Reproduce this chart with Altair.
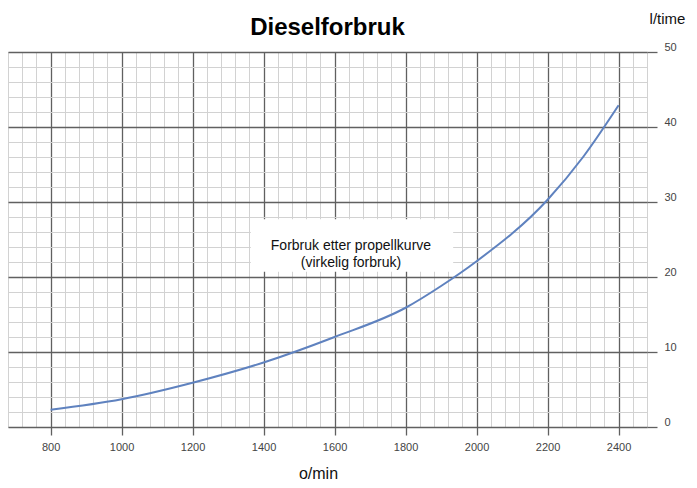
import altair as alt
import pandas as pd

# Data
rpm = [800, 1000, 1200, 1400, 1600, 1800, 1900, 2000, 2200, 2300, 2400]
fuel = [2.3, 3.7, 5.9, 8.6, 12.0, 15.9, 18.8, 22.1, 30.3, 36.0, 42.9]

x_major = [800, 1000, 1200, 1400, 1600, 1800, 2000, 2200, 2400]
y_major = [0, 10, 20, 30, 40, 50]
x_minor = list(range(680, 2481, 40))
y_minor = list(range(0, 51, 2))
x_domain = [680, 2480]
y_domain = [0, 50]

note_lines = ["Forbruk etter propellkurve", "(virkelig forbruk)"]
note_x = [1646]
note_y = [24.2]
box_x = [1364]
box_x2 = [1934]
box_y = [20.7]
box_y2 = [27.7]

df = pd.DataFrame({"rpm": rpm, "fuel": fuel})
note_df = pd.DataFrame({"x": note_x, "y": note_y, "text": ["\n".join(note_lines)]})
box_df = pd.DataFrame({"x": box_x, "x2": box_x2, "y": box_y, "y2": box_y2})

FONT = "Liberation Sans"
xs = alt.Scale(domain=x_domain, nice=False, zero=False)
ys = alt.Scale(domain=y_domain, nice=False, zero=True)

minor_x_axis = alt.Axis(values=x_minor, grid=True, gridColor="#d2d2d2", gridWidth=1,
                        labels=False, ticks=False, domain=False, title=None, orient="bottom")
minor_y_axis = alt.Axis(values=y_minor, grid=True, gridColor="#d2d2d2", gridWidth=1,
                        labels=False, ticks=False, domain=False, title=None, orient="right")

major_x_axis = alt.Axis(values=x_major, grid=True, gridColor="#606060", gridWidth=1.3,
                        orient="bottom", format="d",
                        ticks=True, tickColor="#606060", tickSize=8, tickWidth=1.3,
                        domain=False, labelFont=FONT, labelFontSize=11, labelColor="#444444",
                        labelPadding=6,
                        title="o/min", titleFont=FONT, titleFontSize=16, titleFontWeight="normal",
                        titleColor="#111111", titleX=310, titleY=51, titleBaseline="alphabetic",
                        titleAlign="center")
major_y_axis = alt.Axis(values=y_major, grid=True, gridColor="#606060", gridWidth=1.3,
                        orient="right", format="d", ticks=True, tickColor="#606060", tickSize=10,
                        tickWidth=1.3,
                        domain=False, labelFont=FONT, labelFontSize=11, labelColor="#444444",
                        labelPadding=7, labelOffset=-5, labelAlign="left",
                        title="l/time", titleFont=FONT, titleFontSize=15, titleFontWeight="normal",
                        titleColor="#111111", titleAngle=0, titleX=20, titleY=-34,
                        titleAlign="center", titleBaseline="middle")

base = alt.Chart(df)

minor = base.mark_line(opacity=0).encode(
    x=alt.X("rpm:Q", scale=xs, axis=minor_x_axis),
    y=alt.Y("fuel:Q", scale=ys, axis=minor_y_axis),
)

box = alt.Chart(box_df).mark_rect(color="white", opacity=1).encode(
    x=alt.X("x:Q", scale=xs, axis=None),
    x2="x2:Q",
    y=alt.Y("y:Q", scale=ys, axis=None),
    y2="y2:Q",
)

note = alt.Chart(note_df).mark_text(font=FONT, fontSize=14, color="#111111", lineBreak="\n",
                                    lineHeight=17, align="center", baseline="middle").encode(
    x=alt.X("x:Q", scale=xs, axis=None),
    y=alt.Y("y:Q", scale=ys, axis=None),
    text="text:N",
)

curve = base.mark_line(color="#5f82bf", strokeWidth=2, interpolate="monotone").encode(
    x=alt.X("rpm:Q", scale=xs, axis=major_x_axis),
    y=alt.Y("fuel:Q", scale=ys, axis=major_y_axis),
)

chart = alt.layer(minor, box, note, curve).resolve_axis(
    x="independent", y="independent"
).properties(
    width=639,
    height=375,
    autosize="none",
    padding={"left": 0, "top": 44, "right": 42, "bottom": 53},
    title=alt.TitleParams("Dieselforbruk", font=FONT, fontSize=24, fontWeight="bold",
                          color="#000000", anchor="middle", baseline="alphabetic",
                          offset=19, dy=67),
).configure_view(
    stroke="#4a4a4a", strokeWidth=1.5
).configure(background="white")

chart.save("out.html", embed_options={"renderer": "svg", "actions": False})
